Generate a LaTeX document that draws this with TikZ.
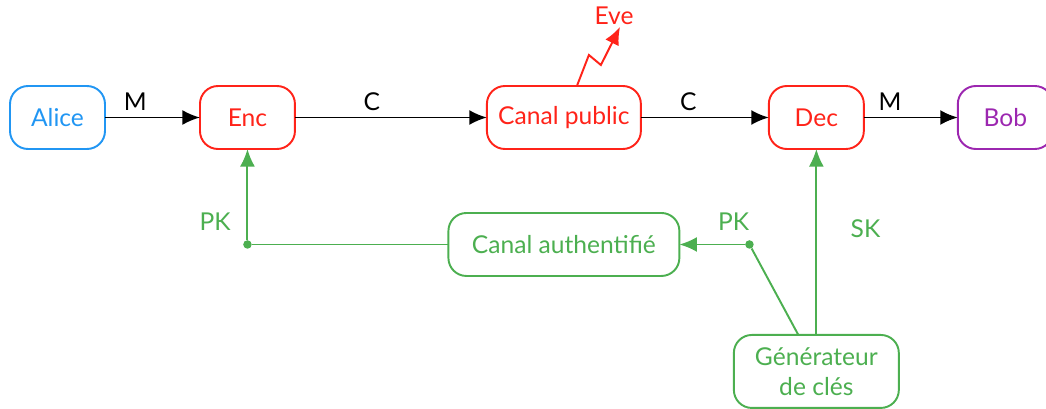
\documentclass[tikz,border=0pt]{standalone}
\usepackage{fontspec}
\setmainfont{Lato}
\usetikzlibrary{shapes,arrows.meta,positioning}
\definecolor{alicecol}{RGB}{33,150,243}
\definecolor{redcol}{RGB}{255,35,25}
\definecolor{greencol}{RGB}{76,175,80}
\definecolor{bobcol}{RGB}{156,39,176}
\def\Gen{Générateur\\de clés}

\begin{document}
\begin{tikzpicture}[x=0.02cm,y=-0.02cm,% one unit is one pixel, y going down
			every node/.style={
				align=center,  		% so that "\\" breaks the line
				font=\fontsize{14}{17}\selectfont
			},
			box/.style={rectangle,rounded corners=0.36cm,draw,line width=1.1pt,outer sep=0pt,
				minimum width=1.9cm,minimum height=1.26cm},
			dot/.style={circle,fill,inner sep=0pt,minimum size=0.17cm},
			every edge/.style={draw,line width=1.1pt},
			>={Latex[length=10pt,width=8.5pt]}
		]
		\useasboundingbox (0,0) rectangle (1046,409);
		% top row
		\node[box,draw=alicecol,text=alicecol](Alice) at (57.5,117.5){Alice};
		\node[box,draw=redcol,text=redcol](Enc)[right=1.9cm of Alice]{Enc};
		\node[box,draw=redcol,text=redcol,minimum width=3.08cm](Canal)[right=3.84cm of Enc]{Canal public};
		\node[box,draw=redcol,text=redcol](Dec)[right=2.56cm of Canal]{Dec};
		\node[box,draw=bobcol,text=bobcol](Bob)[right=1.88cm of Dec]{Bob};
		\node[text=redcol,inner sep=1pt](Eve) at (614,16){Eve};
		% key distribution
		\node[box,draw=greencol,text=greencol,minimum width=4.62cm](Auth)[below=1.28cm of Canal]{Canal authentifié};
		\node[box,draw=greencol,text=greencol,minimum width=3.3cm,minimum height=1.46cm](Gen)[below=3.72cm of Dec]{\Gen};
		\node[dot,greencol](pkL) at (Enc.south |- Auth.west){};
		\node[dot,greencol](pkR)[right=1.31cm of Auth.east]{};

		\path[->]
		(Alice)edge []	node [pos=0.32,above] {M} (Enc)
		(Enc)edge []	node [pos=0.4,above] {C} (Canal)
		(Canal)edge []	node [pos=0.37,above] {C} (Dec)
		(Dec)edge []	node [pos=0.28,above] {M} (Bob)
		;
		\path[greencol]
		(Auth)edge []	node [] {} (pkL)
		(pkL)edge [->]	node [pos=0.2,left=0.2cm] {PK} (Enc)
		(pkR)edge [->]	node [pos=0.17,above=0.15cm] {PK} (Auth)
		([xshift=-0.36cm]Gen.north)edge []	node [] {} (pkR)
		(Gen)edge [->]	node [pos=0.57,right=0.55cm] {SK} (Dec)
		;
		% eavesdropping zigzag
		\draw[redcol,line width=1.1pt,->] ([xshift=0.26cm]Canal.north) -- ++(12,-31) -- ++(12,10) -- ([xshift=0.12cm]Eve.south);
	\end{tikzpicture}
\end{document}
